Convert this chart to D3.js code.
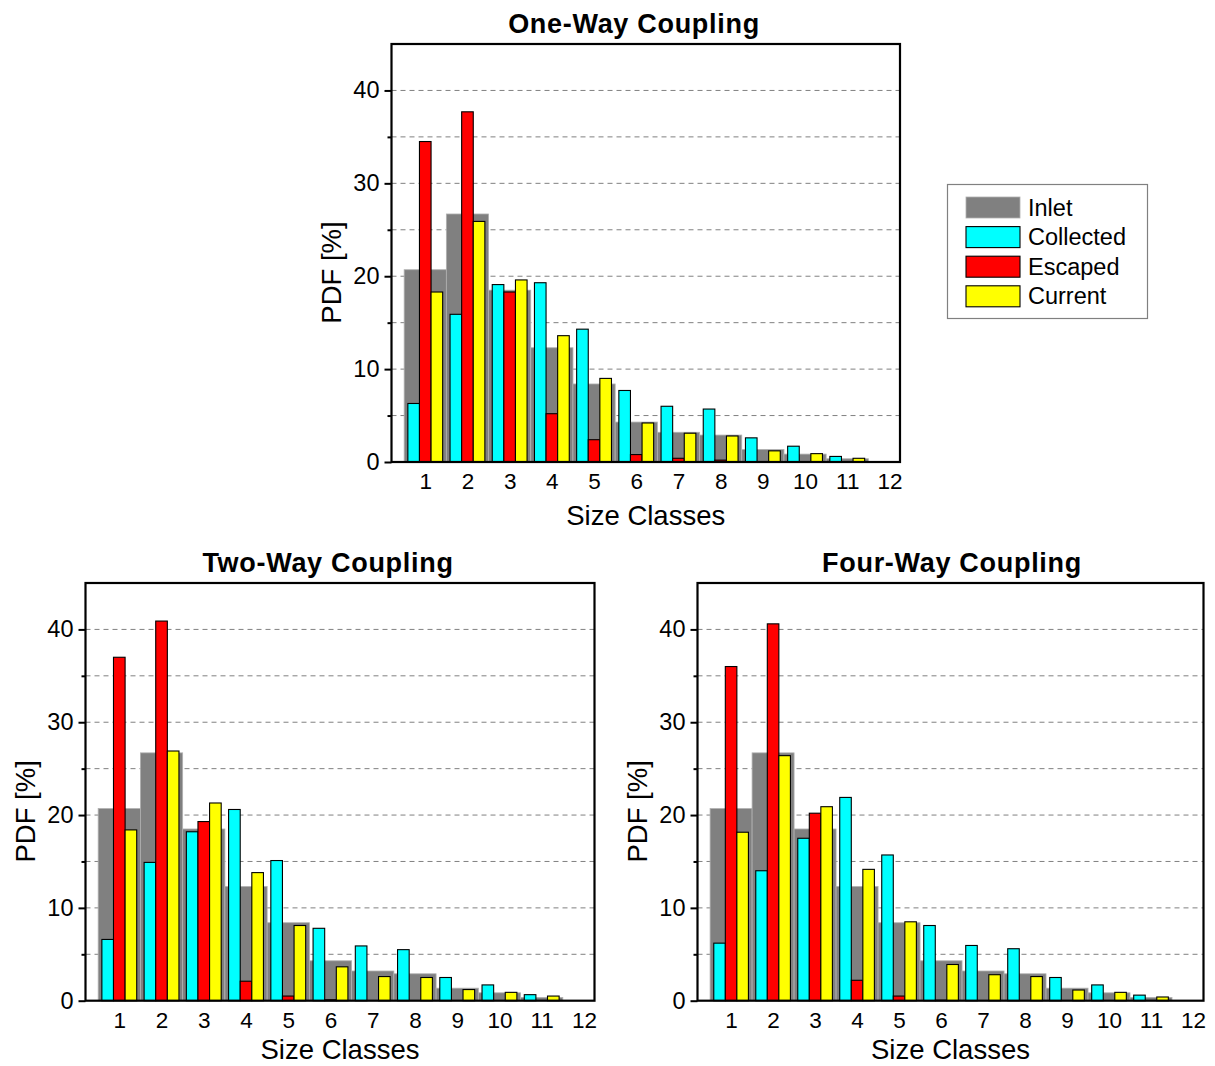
<!DOCTYPE html>
<html>
<head>
<meta charset="utf-8">
<script src="https://cdn.jsdelivr.net/npm/d3@7"></script>
<style>
  html, body { margin: 0; padding: 0; background: #fff; }
  svg { display: block; font-family: "Liberation Sans", Arial, Helvetica, sans-serif; }
</style>
</head>
<body>
<svg id="fig" width="1215" height="1066"></svg>
<script>
// Size classes shown on the x axis
const classes = [1, 2, 3, 4, 5, 6, 7, 8, 9, 10, 11, 12];
const yTicksMajor = [0, 10, 20, 30, 40];
const yTicksMinor = [5, 15, 25, 35];
const gridValues = [5, 10, 15, 20, 25, 30, 35, 40];

// Inlet size distribution (same for all coupling models), PDF in %
const inlet = [20.7, 26.7, 18.5, 12.3, 8.4, 4.3, 3.2, 2.9, 1.35, 0.85, 0.35, 0];

// One-way coupling
const oneWayCollected = [6.3, 15.9, 19.1, 19.3, 14.3, 7.7, 6.0, 5.7, 2.6, 1.7, 0.6, 0];
const oneWayEscaped   = [34.5, 37.7, 18.3, 5.2, 2.4, 0.8, 0.4, 0.2, 0, 0, 0, 0];
const oneWayCurrent   = [18.3, 25.9, 19.6, 13.6, 9.0, 4.2, 3.1, 2.8, 1.2, 0.9, 0.4, 0];

// Two-way coupling
const twoWayCollected = [6.6, 14.9, 18.2, 20.6, 15.1, 7.8, 5.9, 5.5, 2.5, 1.7, 0.65, 0];
const twoWayEscaped   = [37.0, 40.9, 19.3, 2.1, 0.5, 0.1, 0, 0, 0, 0, 0, 0];
const twoWayCurrent   = [18.4, 26.9, 21.3, 13.8, 8.1, 3.65, 2.6, 2.5, 1.2, 0.9, 0.5, 0];

// Four-way coupling
const fourWayCollected = [6.2, 14.0, 17.5, 21.9, 15.7, 8.1, 5.95, 5.6, 2.5, 1.7, 0.6, 0];
const fourWayEscaped   = [36.0, 40.6, 20.2, 2.2, 0.5, 0.05, 0, 0, 0, 0, 0, 0];
const fourWayCurrent   = [18.15, 26.4, 20.9, 14.15, 8.5, 3.9, 2.8, 2.6, 1.15, 0.9, 0.4, 0];

const seriesNames = ["Inlet", "Collected", "Escaped", "Current"];
const colors = { Inlet: "#808080", Collected: "#00ffff", Escaped: "#ff0000", Current: "#ffff00" };

const panels = [
  { title: "One-Way Coupling", left: 391.5, right: 900, top: 44, bottom: 462, titleX: 634, xLabelGap: 63,
    collected: oneWayCollected, escaped: oneWayEscaped, current: oneWayCurrent },
  { title: "Two-Way Coupling", left: 85.5, right: 594.5, top: 583, bottom: 1000.7, titleX: 328, xLabelGap: 58.5,
    collected: twoWayCollected, escaped: twoWayEscaped, current: twoWayCurrent },
  { title: "Four-Way Coupling", left: 697.5, right: 1203.5, top: 583, bottom: 1000.7, titleX: 952, xLabelGap: 58.5,
    collected: fourWayCollected, escaped: fourWayEscaped, current: fourWayCurrent }
];

const svg = d3.select("#fig");
const narrow = 0.275;   // width of a coloured bar, in class units

panels.forEach(p => {
  const x = d3.scaleLinear().domain([0.2, 12.25]).range([p.left, p.right]);
  const y = d3.scaleLinear().domain([0, 45]).range([p.bottom, p.top]);
  const g = svg.append("g");

  // dashed horizontal grid
  g.append("g").selectAll("line").data(gridValues).join("line")
    .attr("x1", p.left).attr("x2", p.right)
    .attr("y1", d => y(d)).attr("y2", d => y(d))
    .attr("stroke", "#808080").attr("stroke-width", 1)
    .attr("stroke-dasharray", "5,4");

  // inlet distribution: wide grey bars, one class wide
  g.append("g").selectAll("rect").data(inlet.map((v, i) => ({ c: classes[i], v })).filter(d => d.v > 0))
    .join("rect")
    .attr("x", d => x(d.c - 0.5)).attr("width", d => x(d.c + 0.5) - x(d.c - 0.5))
    .attr("y", d => y(d.v)).attr("height", d => y(0) - y(d.v))
    .attr("fill", colors.Inlet).attr("stroke", "#b0b0b0").attr("stroke-width", 0.8);

  // collected / escaped / current: narrow outlined bars side by side
  const groups = [
    { key: "Collected", vals: p.collected, off: -narrow },
    { key: "Escaped", vals: p.escaped, off: 0 },
    { key: "Current", vals: p.current, off: narrow }
  ];
  groups.forEach(s => {
    g.append("g").selectAll("rect")
      .data(s.vals.map((v, i) => ({ c: classes[i], v })).filter(d => d.v > 0))
      .join("rect")
      .attr("x", d => x(d.c + s.off - narrow / 2))
      .attr("width", d => x(d.c + s.off + narrow / 2) - x(d.c + s.off - narrow / 2))
      .attr("y", d => y(d.v)).attr("height", d => y(0) - y(d.v))
      .attr("fill", colors[s.key]).attr("stroke", "#000").attr("stroke-width", 1.1);
  });

  // y axis: labelled major ticks and short minor ticks
  const yMajor = g.append("g").attr("transform", `translate(${p.left},0)`)
    .call(d3.axisLeft(y).tickValues(yTicksMajor).tickSize(7).tickPadding(5).tickFormat(d3.format("d")));
  yMajor.select(".domain").remove();
  yMajor.selectAll("line").attr("stroke", "#000").attr("stroke-width", 2);
  yMajor.selectAll("text").attr("font-size", 23.5).attr("fill", "#000")
    .attr("font-family", "'Liberation Sans', Arial, sans-serif");

  const yMinor = g.append("g").attr("transform", `translate(${p.left},0)`)
    .call(d3.axisLeft(y).tickValues(yTicksMinor).tickSize(4).tickFormat(""));
  yMinor.select(".domain").remove();
  yMinor.selectAll("line").attr("stroke", "#000").attr("stroke-width", 2);

  // x axis: class numbers without tick marks
  const xAxis = g.append("g").attr("transform", `translate(0,${p.bottom})`)
    .call(d3.axisBottom(x).tickValues(classes).tickSize(0).tickFormat(d3.format("d")));
  xAxis.select(".domain").remove();
  xAxis.selectAll("text").attr("font-size", 22.5).attr("fill", "#000")
    .attr("dy", null).attr("y", 27)
    .attr("font-family", "'Liberation Sans', Arial, sans-serif");

  // frame
  g.append("rect")
    .attr("x", p.left).attr("y", p.top)
    .attr("width", p.right - p.left).attr("height", p.bottom - p.top)
    .attr("fill", "none").attr("stroke", "#000").attr("stroke-width", 2.2);

  // titles and axis labels
  g.append("text").attr("x", p.titleX).attr("y", p.top - 11)
    .attr("text-anchor", "middle").attr("font-size", 27).attr("font-weight", "bold")
    .attr("letter-spacing", 0.7).text(p.title);

  g.append("text").attr("x", (p.left + p.right) / 2).attr("y", p.bottom + p.xLabelGap)
    .attr("text-anchor", "middle").attr("font-size", 27.5).text("Size Classes");

  g.append("text")
    .attr("transform", `translate(${p.left - 51},${y(20.4)}) rotate(-90)`)
    .attr("text-anchor", "middle").attr("font-size", 27.5).text("PDF [%]");
});

// legend
const legend = svg.append("g").attr("transform", "translate(947.5,184.5)");
legend.append("rect").attr("width", 200).attr("height", 134)
  .attr("fill", "#fff").attr("stroke", "#808080").attr("stroke-width", 1.2);
const items = legend.selectAll("g.item").data(seriesNames).join("g")
  .attr("class", "item")
  .attr("transform", (d, i) => `translate(18.5,${12.5 + i * 29.6})`);
items.append("rect").attr("width", 54).attr("height", 21)
  .attr("fill", d => colors[d])
  .attr("stroke", d => d === "Inlet" ? "#b0b0b0" : "#000")
  .attr("stroke-width", d => d === "Inlet" ? 0.8 : 1.1);
items.append("text").attr("x", 62).attr("y", 18.5)
  .attr("font-size", 23.5).text(d => d);
</script>
</body>
</html>
